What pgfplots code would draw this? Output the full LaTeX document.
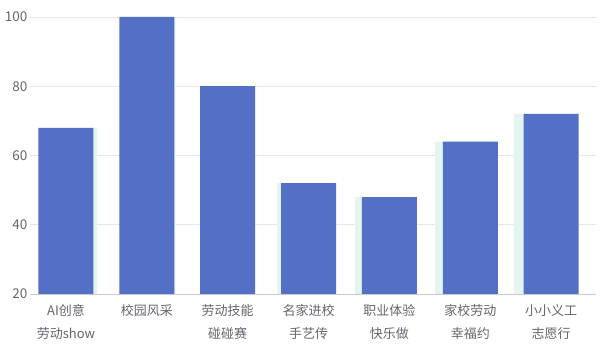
\documentclass[border=0pt]{standalone}
\usepackage{pgfplots}
\pgfplotsset{compat=1.18}
\usepackage{fontspec}
\setmainfont{Noto Sans CJK SC}
\definecolor{barblue}{RGB}{83,112,198}
\definecolor{ghost}{RGB}{226,246,239}
\definecolor{gridc}{RGB}{230,231,234}
\definecolor{txt}{RGB}{100,102,110}
\definecolor{axc}{RGB}{200,202,208}
\begin{document}
\begin{tikzpicture}
\begin{axis}[
  scale only axis,
  width=566pt, height=277pt,
  xmin=-0.5, xmax=6.5,
  ymin=20, ymax=100,
  ytick={20,40,60,80,100},
  xtick={-0.055,0.945,1.945,2.945,3.945,4.945,5.945},
  xticklabels={{AI创意\\劳动show},{校园风采},{劳动技能\\碰碰赛},{名家进校\\手艺传},{职业体验\\快乐做},{家校劳动\\幸福约},{小小义工\\志愿行}},
  xticklabel style={align=center, font=\fontsize{13}{23}\selectfont, text=txt, yshift=-7pt},
  yticklabel style={font=\fontsize{13.5}{14}\selectfont, text=txt, xshift=1pt},
  /pgf/number format/assume math mode=true,
  axis x line*=bottom,
  axis y line*=left,
  y axis line style={draw=none},
  x axis line style={axc, line width=0.8pt, -},
  major tick length=0pt,
  ymajorgrids,
  grid style={gridc, line width=0.8pt},
  ybar, bar width=0.68,
  clip=false,
]
\addplot[fill=ghost, draw=none, bar shift=0pt] coordinates {
  (-0.009,68) (0.957,100) (1.945,80) (2.898,52) (3.861,48) (4.849,64) (5.821,72)};
\addplot[fill=barblue, draw=none, bar shift=0pt] coordinates {
  (-0.055,68) (0.945,100) (1.945,80) (2.945,52) (3.945,48) (4.945,64) (5.945,72)};
\end{axis}
\path ([xshift=-30pt,yshift=-61pt]current axis.south west) rectangle ([xshift=8pt,yshift=17pt]current axis.north east);
\end{tikzpicture}
\end{document}
